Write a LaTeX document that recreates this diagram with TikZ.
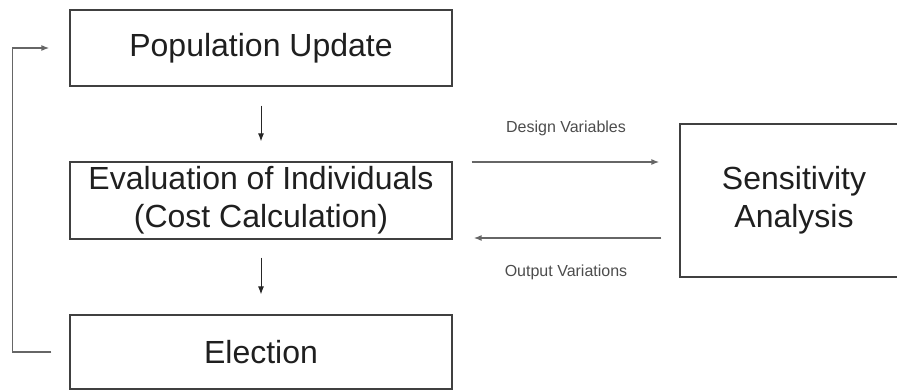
\documentclass[tikz,border=0pt]{standalone}
\usepackage{fontspec}
\setmainfont{Liberation Sans}
\usetikzlibrary{arrows.meta}

\begin{document}
\begin{tikzpicture}[x=1pt,y=1pt,
  box/.style={draw=black!75, line width=1.2pt, inner sep=0pt, align=center,
    text=black!88, font=\fontsize{32}{38}\selectfont},
  flow/.style={-{Latex[length=8pt,width=6pt]}, line width=1pt, draw=black!85},
  link/.style={-{Latex[length=8pt,width=6pt]}, line width=1.5pt, draw=black!60},
  note/.style={text=black!70, font=\fontsize{16}{19}\selectfont}]
  \useasboundingbox (0,0) rectangle (897,-390);
  % the three steps of the loop
  \node[box, minimum width=382pt, minimum height=76pt] (pop) at (261,-48) {Population Update};
  \node[box, minimum width=382pt, minimum height=77pt] (eval) at (261,-200.5) {Evaluation of Individuals\\(Cost Calculation)};
  \node[box, minimum width=382pt, minimum height=74pt] (elect) at (261,-352) {Election};
  % side block, runs past the right edge
  \node[box, minimum width=228pt, minimum height=153pt] (sens) at (794,-200.5) {Sensitivity\\Analysis};
  \draw[flow, shorten <=19pt, shorten >=20pt] (pop) -- (eval);
  \draw[flow, shorten <=18pt, shorten >=20pt] (eval) -- (elect);
  \draw[link, shorten <=18pt, shorten >=20pt] (elect.west) -- ++(-57,0) |- (pop.west);
  \draw[link, shorten <=19pt, shorten >=20pt] ([yshift=38.5pt]eval.east) -- ([yshift=38.5pt]sens.west)
    node[midway, yshift=34pt, note] {Design Variables};
  \draw[link, shorten <=18pt, shorten >=21pt] ([yshift=-37.5pt]sens.west) -- ([yshift=-37.5pt]eval.east)
    node[midway, yshift=-34pt, note] {Output Variations};
\end{tikzpicture}
\end{document}
